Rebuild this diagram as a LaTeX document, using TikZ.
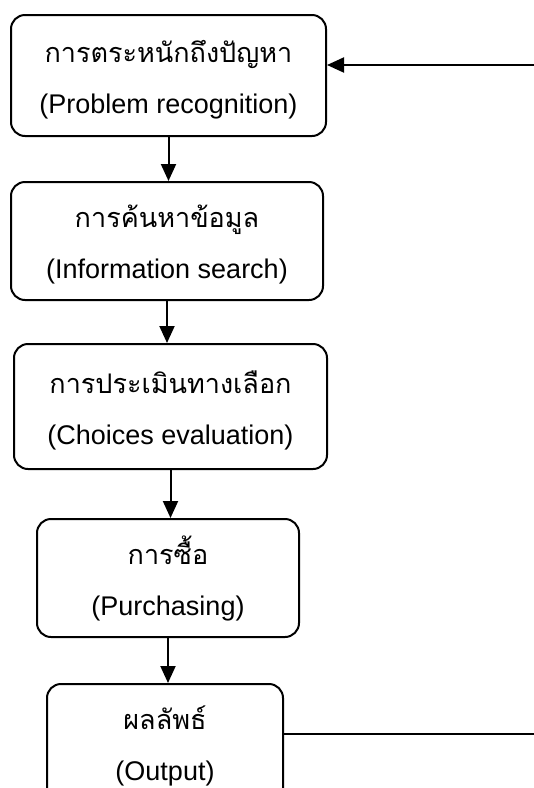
\documentclass[tikz,border=0pt]{standalone}
\usepackage{fontspec}
\setmainfont{Liberation Sans}
\newfontfamily\thaifont[Script=Thai]{Loma}
\usetikzlibrary{arrows.meta, positioning}
\newcommand{\thline}[1]{{\thaifont\rule{0pt}{30pt}#1}}
\tikzset{
    flow/.style={x=1pt, y=1pt, line cap=round, line join=round,
                 font=\fontsize{27}{51}\selectfont},
    stage/.style={draw=black, line width=2pt, rounded corners=14pt,
                  fill=white, align=center, inner sep=4pt},
    arrow/.style={-{Triangle[length=17pt, width=15pt]}, line width=2pt},
    feedback/.style={line width=1.5pt},
}

\begin{document}
\begin{tikzpicture}[flow]

% --- page frame ---
\clip (0,0) rectangle (534,-788);

% --- stages of the buying process ---
\node[stage, minimum width=315pt, minimum height=121pt] (recog) at (168.5,-75.5)
    {\thline{การตระหนักถึงปัญหา}\\(Problem recognition)};
\node[stage, minimum width=312pt, minimum height=118pt, below=44pt of recog, xshift=-1.5pt] (search)
    {\thline{การค้นหาข้อมูล}\\(Information search)};
\node[stage, minimum width=313pt, minimum height=125pt, below=42pt of search, xshift=3.5pt] (evalu)
    {\thline{การประเมินทางเลือก}\\(Choices evaluation)};
\node[stage, minimum width=262pt, minimum height=118pt, below=48pt of evalu, xshift=-2.5pt] (purchase)
    {\thline{การซื้อ}\\(Purchasing)};
\node[stage, minimum width=236pt, minimum height=118pt, below=45pt of purchase, xshift=-3pt] (output)
    {\thline{ผลลัพธ์}\\(Output)};

\draw[arrow] (recog.south)    -- (recog.south |- search.north);
\draw[arrow] (search.south)   -- (search.south |- evalu.north);
\draw[arrow] (evalu.south)    -- (evalu.south |- purchase.north);
\draw[arrow] (purchase.south) -- (purchase.south |- output.north);

% --- feedback loop, leaving the page on the right ---
\coordinate (fbin)  at (534,-65);
\coordinate (fbout) at (534,-734);
\draw[arrow] (fbin) -- (fbin -| recog.east);
\draw[feedback] (output.east |- fbout) -- (fbout);

\end{tikzpicture}
\end{document}
